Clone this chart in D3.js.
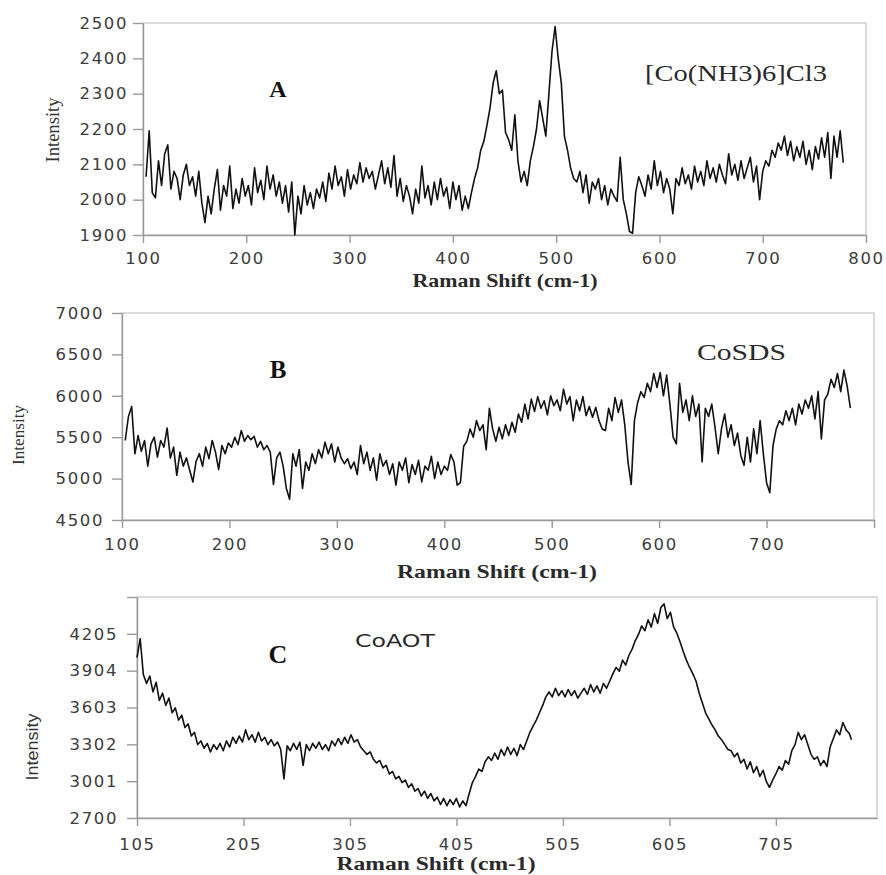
<!DOCTYPE html>
<html>
<head>
<meta charset="utf-8">
<script src="https://cdn.jsdelivr.net/npm/d3@7"></script>
<style>
body{margin:0;background:#fff;}
</style>
</head>
<body>
<div id="chart"></div>
<script>
(function(){

// Raman shift grid (cm-1) for spectra A and B
const shiftAB = [
103,106,109,112,115,118,121,124,127,130,
133,136,139,142,145,148,151,154,157,160,
163,166,169,172,175,178,181,184,187,190,
193,196,199,202,205,208,211,214,217,220,
223,226,229,232,235,238,241,244,247,250,
253,256,259,262,265,268,271,274,277,280,
283,286,289,292,295,298,301,304,307,310,
313,316,319,322,325,328,331,334,337,340,
343,346,349,352,355,358,361,364,367,370,
373,376,379,382,385,388,391,394,397,400,
403,406,409,412,415,418,421,424,427,430,
433,436,439,442,445,448,451,454,457,460,
463,466,469,472,475,478,481,484,487,490,
493,496,499,502,505,508,511,514,517,520,
523,526,529,532,535,538,541,544,547,550,
553,556,559,562,565,568,571,574,577,580,
583,586,589,592,595,598,601,604,607,610,
613,616,619,622,625,628,631,634,637,640,
643,646,649,652,655,658,661,664,667,670,
673,676,679,682,685,688,691,694,697,700,
703,706,709,712,715,718,721,724,727,730,
733,736,739,742,745,748,751,754,757,760,
763,766,769,772,775,778];

// [Co(NH3)6]Cl3
const intensityA = [
2065,2195,2020,2005,2110,2040,2130,2155,2030,2080,
2060,2000,2070,2100,2040,2065,2010,2080,1990,1935,
2010,1960,2030,2085,1970,2040,2010,2095,1975,2030,
1990,2060,2010,2040,1985,2090,2020,2055,2000,2095,
2030,2070,2010,2050,1990,2040,1965,2050,1900,2010,
1960,2040,1985,2020,1975,2030,2005,2050,1995,2075,
2030,2095,2040,2065,2010,2085,2030,2070,2045,2105,
2050,2090,2060,2080,2030,2070,2110,2045,2090,2035,
2125,2010,2060,1995,2040,2010,1960,2030,1990,2095,
2005,2040,1985,2050,2000,2060,2010,2035,1975,2050,
2000,2040,1970,2010,1975,2020,2060,2090,2140,2165,
2210,2260,2330,2365,2300,2310,2190,2170,2140,2240,
2110,2050,2080,2040,2110,2150,2200,2280,2230,2180,
2300,2420,2490,2400,2330,2180,2140,2090,2060,2050,
2080,2020,2070,1990,2050,2030,2060,2000,2040,1985,
2030,2010,1995,2120,2000,1960,1910,1905,2020,2065,
2040,2010,2070,2030,2110,2040,2080,2020,2060,2030,
1960,2060,2040,2090,2045,2070,2030,2095,2050,2080,
2040,2110,2060,2090,2050,2100,2070,2045,2130,2070,
2100,2055,2110,2060,2090,2120,2050,2095,2000,2080,
2110,2095,2140,2120,2160,2140,2180,2125,2165,2110,
2150,2120,2165,2100,2140,2085,2150,2115,2175,2120,
2190,2060,2180,2120,2195,2105];

// CoSDS
const intensityB = [
5460,5750,5870,5300,5520,5330,5460,5150,5420,5500,
5260,5460,5380,5610,5250,5380,5040,5320,5150,5250,
5100,4960,5210,5300,5150,5380,5240,5460,5320,5110,
5400,5300,5430,5380,5500,5410,5580,5450,5520,5470,
5510,5380,5450,5350,5400,5320,4930,5250,5320,5150,
4880,4750,5300,5150,5350,4880,5200,5100,5300,5180,
5350,5250,5440,5300,5420,5200,5380,5250,5180,5240,
5120,5200,5050,5400,5180,5320,5100,5250,4980,5300,
5150,5220,5050,5180,4920,5200,5100,5250,4950,5170,
5050,5220,4960,5150,5100,5270,5000,5200,5050,5150,
5100,5290,5200,4920,4950,5390,5450,5600,5500,5700,
5580,5650,5350,5850,5600,5450,5620,5480,5650,5520,
5680,5560,5780,5680,5900,5720,5960,5810,5990,5850,
5940,5770,6000,5880,5950,5820,6080,5900,5990,5700,
5950,5820,5990,5760,5870,5740,5860,5700,5600,5580,
5850,5700,5980,5800,5950,5650,5200,4930,5700,5920,
6050,5980,6150,6050,6270,6100,6280,6000,6250,5900,
5500,5420,6150,5800,5950,5700,6000,5750,5900,5200,
5850,5750,5900,5620,5300,5600,5780,5500,5650,5400,
5550,5280,5160,5500,5200,5600,5300,5700,5300,4950,
4830,5400,5600,5700,5650,5820,5700,5850,5650,5900,
5780,5950,5850,6000,5720,6050,5480,5950,6020,6200,
6100,6270,6050,6310,6120,5850];

// Raman shift grid (cm-1) for spectrum C
const shiftC = [
105,108,111,114,117,120,123,126,129,132,
135,138,141,144,147,150,153,156,159,162,
165,168,171,174,177,180,183,186,189,192,
195,198,201,204,207,210,213,216,219,222,
225,228,231,234,237,240,243,246,249,252,
255,258,261,264,267,270,273,276,279,282,
285,288,291,294,297,300,303,306,309,312,
315,318,321,324,327,330,333,336,339,342,
345,348,351,354,357,360,363,366,369,372,
375,378,381,384,387,390,393,396,399,402,
405,408,411,414,417,420,423,426,429,432,
435,438,441,444,447,450,453,456,459,462,
465,468,471,474,477,480,483,486,489,492,
495,498,501,504,507,510,513,516,519,522,
525,528,531,534,537,540,543,546,549,552,
555,558,561,564,567,570,573,576,579,582,
585,588,591,594,597,600,603,606,609,612,
615,618,621,624,627,630,633,636,639,642,
645,648,651,654,657,660,663,666,669,672,
675,678,681,684,687,690,693,696,699,702,
705,708,711,714,717,720,723,726,729,732,
735,738,741,744,747,750,753,756,759,762,
765,768,771,774,776];

// CoAOT
const intensityC = [
4010,4165,3870,3800,3860,3730,3810,3660,3720,3620,
3680,3560,3600,3500,3540,3440,3470,3370,3400,3300,
3330,3270,3310,3240,3300,3260,3310,3250,3330,3280,
3360,3310,3370,3320,3420,3340,3380,3320,3400,3330,
3360,3300,3340,3290,3320,3260,3020,3290,3250,3310,
3260,3320,3130,3300,3250,3310,3270,3320,3260,3300,
3250,3330,3290,3350,3300,3360,3310,3380,3320,3340,
3280,3250,3220,3240,3180,3150,3170,3110,3130,3060,
3080,3020,3040,2990,3010,2950,2980,2920,2940,2880,
2920,2860,2900,2840,2870,2810,2860,2800,2850,2810,
2860,2790,2840,2800,2900,2990,3040,3100,3080,3160,
3200,3170,3230,3180,3260,3210,3280,3220,3270,3210,
3300,3260,3330,3400,3450,3500,3560,3620,3690,3730,
3690,3760,3700,3740,3690,3750,3700,3740,3680,3720,
3760,3710,3790,3730,3780,3720,3800,3760,3820,3880,
3930,3900,3990,3950,4030,4080,4150,4200,4270,4230,
4320,4260,4370,4290,4420,4450,4330,4380,4260,4210,
4140,4060,3990,3930,3880,3820,3720,3640,3560,3510,
3460,3420,3370,3340,3300,3260,3250,3200,3230,3150,
3180,3100,3160,3070,3120,3040,3090,3000,2950,3010,
3060,3120,3090,3170,3140,3250,3300,3400,3340,3380,
3300,3220,3180,3200,3130,3170,3120,3280,3350,3420,
3380,3480,3420,3390,3340];

// axis ticks and their labels
const ticksXA = [100,200,300,400,500,600,700,800];
const labelsXA = ["100","200","300","400","500","600","700","800"];
const ticksYA = [1900,2000,2100,2200,2300,2400,2500];
const labelsYA = ["1900","2000","2100","2200","2300","2400","2500"];

const ticksXB = [100,200,300,400,500,600,700,800];
const labelsXB = ["100","200","300","400","500","600","700",""];
const ticksYB = [4500,5000,5500,6000,6500,7000];
const labelsYB = ["4500","5000","5500","6000","6500","7000"];

const ticksXC = [105,205,305,405,505,605,705];
const labelsXC = ["105","205","305","405","505","605","705"];
const ticksYC = [2700,3001,3302,3603,3904,4205,4506];
const labelsYC = ["2700","3001","3302","3603","3904","4205",""];

const width = 886;
const height = 875;

const svg = d3.select("#chart")
.append("svg")
.attr("width",width)
.attr("height",height)
.style("display","block");

const panels = [
{
  shift:shiftAB, values:intensityA,
  xDomain:[100,800], yDomain:[1900,2500],
  xTicks:ticksXA, xLabels:labelsXA, yTicks:ticksYA, yLabels:labelsYA,
  left:143, right:866, top:23, bottom:235,
  xPad:9, yPad:5,
  letter:"A", letterX:278, letterY:97, letterSize:24,
  name:"[Co(NH3)6]Cl3", nameX:645, nameY:81, nameLen:182, nameSize:23, nameFont:"'Liberation Serif', serif",
  yTitleX:59, yTitleY:130, yTitleLen:65, yTitleSize:19, yTitleFont:"'Liberation Serif', serif",
  xTitleX:505, xTitleY:287, xTitleLen:185, xTitleSize:19
},
{
  shift:shiftAB, values:intensityB,
  xDomain:[100,800], yDomain:[4500,7000],
  xTicks:ticksXB, xLabels:labelsXB, yTicks:ticksYB, yLabels:labelsYB,
  left:122, right:874, top:313, bottom:520,
  xPad:10, yPad:8,
  letter:"B", letterX:278, letterY:378, letterSize:25,
  name:"CoSDS", nameX:697, nameY:360, nameLen:89, nameSize:23, nameFont:"'Liberation Serif', serif",
  yTitleX:24, yTitleY:435, yTitleLen:60, yTitleSize:17, yTitleFont:"'Liberation Serif', serif",
  xTitleX:497, xTitleY:578, xTitleLen:200, xTitleSize:18
},
{
  shift:shiftC, values:intensityC,
  xDomain:[105,800], yDomain:[2700,4506],
  xTicks:ticksXC, xLabels:labelsXC, yTicks:ticksYC, yLabels:labelsYC,
  left:137, right:877, top:597, bottom:818,
  xPad:12, yPad:9,
  letter:"C", letterX:278, letterY:663, letterSize:26,
  name:"CoAOT", nameX:355, nameY:647, nameLen:80, nameSize:18, nameFont:"'DejaVu Sans', sans-serif",
  yTitleX:38, yTitleY:747, yTitleLen:67, yTitleSize:17, yTitleFont:"'Liberation Sans', sans-serif",
  xTitleX:436, xTitleY:870, xTitleLen:199, xTitleSize:18
}
];

panels.forEach(p=>{

const x = d3.scaleLinear()
.domain(p.xDomain)
.range([p.left,p.right]);

const y = d3.scaleLinear()
.domain(p.yDomain)
.range([p.bottom,p.top]);

// plot area border
svg.append("rect")
.attr("x",p.left)
.attr("y",p.top)
.attr("width",p.right-p.left)
.attr("height",p.bottom-p.top)
.attr("fill","none")
.attr("stroke","#c4c4c4")
.attr("stroke-width",1.2);

const gx = svg.append("g")
.attr("transform",`translate(0,${p.bottom})`)
.call(d3.axisBottom(x)
  .tickValues(p.xTicks)
  .tickFormat((d,i)=>p.xLabels[i])
  .tickSize(8)
  .tickSizeOuter(0)
  .tickPadding(p.xPad));

const gy = svg.append("g")
.attr("transform",`translate(${p.left},0)`)
.call(d3.axisLeft(y)
  .tickValues(p.yTicks)
  .tickFormat((d,i)=>p.yLabels[i])
  .tickSize(10)
  .tickSizeOuter(0)
  .tickPadding(p.yPad));

[gx,gy].forEach(g=>{
  g.select(".domain").attr("stroke","#9a9a9a").attr("stroke-width",1.4);
  g.selectAll(".tick line").attr("stroke","#9a9a9a").attr("stroke-width",1.4);
  g.selectAll(".tick text")
  .attr("fill","#3c3c3c")
  .style("font-family","'DejaVu Sans', sans-serif")
  .style("font-size","16.5px")
  .style("letter-spacing","1.6px");
});

const line = d3.line()
.x(d=>x(d[0]))
.y(d=>y(d[1]));

const pts = p.shift.map((s,i)=>[s,p.values[i]]);

svg.append("path")
.datum(pts)
.attr("d",line)
.attr("fill","none")
.attr("stroke","#111")
.attr("stroke-width",1.6)
.attr("stroke-linejoin","round");

// panel letter
svg.append("text")
.attr("x",p.letterX)
.attr("y",p.letterY)
.attr("text-anchor","middle")
.style("font-family","'Liberation Serif', serif")
.style("font-weight","bold")
.style("font-size",p.letterSize+"px")
.attr("fill","#111")
.text(p.letter);

// compound name
svg.append("text")
.attr("x",p.nameX)
.attr("y",p.nameY)
.attr("textLength",p.nameLen)
.attr("lengthAdjust","spacingAndGlyphs")
.style("font-family",p.nameFont)
.style("font-size",p.nameSize+"px")
.attr("fill","#2a2a2a")
.text(p.name);

// y title
svg.append("text")
.attr("transform",`translate(${p.yTitleX},${p.yTitleY}) rotate(-90)`)
.attr("text-anchor","middle")
.attr("textLength",p.yTitleLen)
.attr("lengthAdjust","spacingAndGlyphs")
.style("font-family",p.yTitleFont)
.style("font-size",p.yTitleSize+"px")
.attr("fill","#333")
.text("Intensity");

// x title
svg.append("text")
.attr("x",p.xTitleX)
.attr("y",p.xTitleY)
.attr("text-anchor","middle")
.attr("textLength",p.xTitleLen)
.attr("lengthAdjust","spacingAndGlyphs")
.style("font-family","'Liberation Serif', serif")
.style("font-weight","bold")
.style("font-size",p.xTitleSize+"px")
.attr("fill","#2a2a2a")
.text("Raman Shift (cm-1)");

});

})();
</script>
</body>
</html>
